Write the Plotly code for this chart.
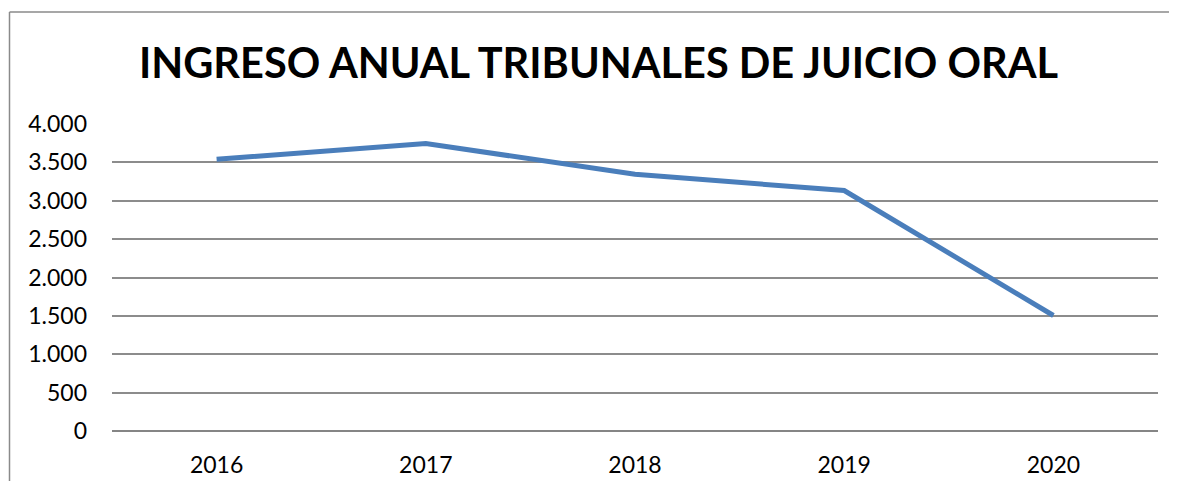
import plotly.graph_objects as go

years = ["2016", "2017", "2018", "2019", "2020"]
ingreso = [3540, 3746, 3345, 3133, 1505]
y_ticks = [0, 500, 1000, 1500, 2000, 2500, 3000, 3500, 4000]

# page has an 8px body margin, so the figure starts at (8, 8)
OFF = 8
W, H = 1177 - OFF, 489 - 2 * OFF
L, T = 112 - OFF, 124 - OFF
R = W - (1158 - OFF)
B = H - (431 - OFF)
pw, ph = W - L - R, H - T - B

def px_x(x):
    return (x - OFF - L) / pw

def px_y(y):
    return (H - B - (y - OFF)) / ph

FONT = "Lato, Open Sans, sans-serif"
BORDER = dict(color="#8A8A8A", width=1.5)

fig = go.Figure()
fig.add_trace(go.Scatter(
    x=years, y=ingreso, mode="lines",
    line=dict(color="#4A7EBB", width=5),
    hoverinfo="x+y",
))

fig.update_layout(
    width=W, height=H,
    margin=dict(l=L, r=R, t=T, b=B, autoexpand=False),
    paper_bgcolor="white", plot_bgcolor="white",
    separators=",.",
    showlegend=False,
    title=dict(
        text="<b>INGRESO ANUAL TRIBUNALES DE JUICIO ORAL</b>",
        x=(598.5 - OFF) / W, xref="container", xanchor="center",
        y=1 - (63 - OFF) / H, yref="container", yanchor="middle",
        font=dict(family=FONT, size=41.5, color="black"),
    ),
    xaxis=dict(
        type="category", range=[-0.5, 4.5], automargin=False,
        showgrid=False, showline=False, zeroline=False,
        ticks="", tickfont=dict(family=FONT, size=23, color="black"),
        ticklabelstandoff=18,
    ),
    yaxis=dict(
        range=[0, 4000], tickvals=y_ticks, tickformat=",d", automargin=False,
        showgrid=True, gridcolor="#8C8C8C", gridwidth=1.5,
        zeroline=True, zerolinecolor="#858585", zerolinewidth=2,
        showline=False, ticks="",
        tickfont=dict(family=FONT, size=23, color="black"),
        ticklabelstandoff=24,
    ),
    shapes=[
        dict(type="line", xref="paper", yref="paper",
             x0=px_x(9.5), x1=px_x(1200), y0=px_y(12), y1=px_y(12),
             line=BORDER, layer="below"),
        dict(type="line", xref="paper", yref="paper",
             x0=px_x(9.5), x1=px_x(9.5), y0=px_y(12), y1=px_y(520),
             line=BORDER, layer="below"),
    ],
)

fig.write_html("out.html")
